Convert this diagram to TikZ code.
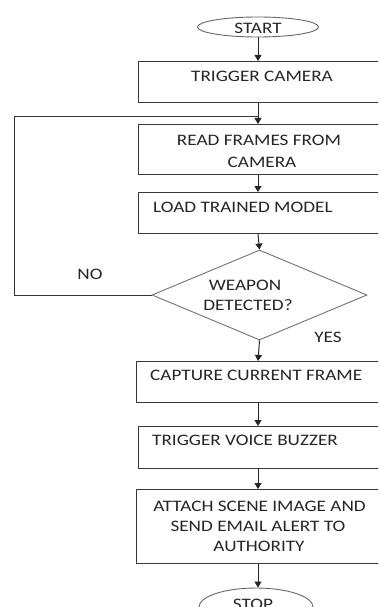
\documentclass[tikz,border=0pt]{standalone}
\usepackage{fontspec}
\setmainfont[FakeStretch=1.2]{Carlito}
\usetikzlibrary{arrows.meta,shapes.geometric}
\tikzset{
  flowbox/.style={draw=black!78, line width=1.1pt, rectangle, inner sep=0pt, anchor=north west},
  term/.style={draw=black!60, line width=0.9pt, ellipse, inner sep=0pt},
  decide/.style={draw=black!55, line width=0.9pt, diamond, inner sep=0pt},
  lbl/.style={inner sep=0pt, anchor=base, text=black!85, font=\fontsize{16}{19}\selectfont},
  lblw/.style={lbl, anchor=base west},
  arr/.style={draw=black!85, line width=1pt, -{Triangle[length=6pt,width=7pt]}},
  flow/.style={draw=black!80, line width=1pt}
}
\begin{document}
\begin{tikzpicture}[x=1pt,y=-1pt]
\clip (0,0) rectangle (378,607);
\fill[white] (0,0) rectangle (378,607);

% terminals
\node[term, minimum width=121pt, minimum height=20pt] (start) at (258,27) {};
\node[term, minimum width=114pt, minimum height=38pt] (stop) at (256,607) {};

% process boxes (they run on past the right edge)
\node[flowbox, minimum width=260pt, minimum height=41pt] (trig) at (138,61) {};
\node[flowbox, minimum width=260pt, minimum height=50pt] (read) at (138,124) {};
\node[flowbox, minimum width=260pt, minimum height=41pt] (load) at (138,192) {};
\node[flowbox, minimum width=262pt, minimum height=41pt] (capt) at (136,361) {};
\node[flowbox, minimum width=260pt, minimum height=42pt] (buzz) at (138,426) {};
\node[flowbox, minimum width=262pt, minimum height=74pt] (mail) at (136,489) {};

% decision
\node[decide, minimum width=215pt, minimum height=90pt] (dec) at (259.5,295) {};

% texts
\node[lbl] (tstart) at (258,34) {START};
\node[lbl] (ttrig) at (262,82) {TRIGGER CAMERA};
\node[lbl] (tread1) at (259,145) {READ FRAMES FROM};
\node[lbl] (tread2) at (262,167) {CAMERA};
\node[lblw] (tload) at (153,212) {LOAD TRAINED MODEL};
\node[lbl] (tdec1) at (245,290) {WEAPON};
\node[lbl] (tdec2) at (248,310) {DETECTED?};
\node[lbl] (tno) at (90,279) {NO};
\node[lbl] (tyes) at (328,342) {YES};
\node[lblw] (tcapt) at (150,380) {CAPTURE CURRENT FRAME};
\node[lblw] (tbuzz) at (152,445) {TRIGGER VOICE BUZZER};
\node[lbl] (tmail1) at (259.5,511) {ATTACH SCENE IMAGE AND};
\node[lbl] (tmail2) at (258,531) {SEND EMAIL ALERT TO};
\node[lbl] (tmail3) at (259,551) {AUTHORITY};
\node[lbl] (tstop) at (253,609.5) {STOP};

% connectors
\coordinate (mx) at (258,0);
\draw[arr] (start.south -| mx) -- (trig.north -| mx);
\draw[arr] (trig.south -| mx) -- (read.north -| mx);
\draw[arr] (read.south -| mx) -- (load.north -| mx);
\draw[arr] (load.south -| mx) -- (dec.north);
\draw[arr] (dec.south) -- (capt.north -| mx);
\draw[arr] (capt.south -| mx) -- (buzz.north -| mx);
\draw[arr] (buzz.south -| mx) -- (mail.north -| mx);
\draw[arr] (mail.south -| mx) -- (stop.north -| mx);

% loop back when nothing is found
\coordinate (loopx) at (14,117);
\draw[flow] (dec.west) -| (loopx) -- (loopx -| mx);
\end{tikzpicture}
\end{document}
